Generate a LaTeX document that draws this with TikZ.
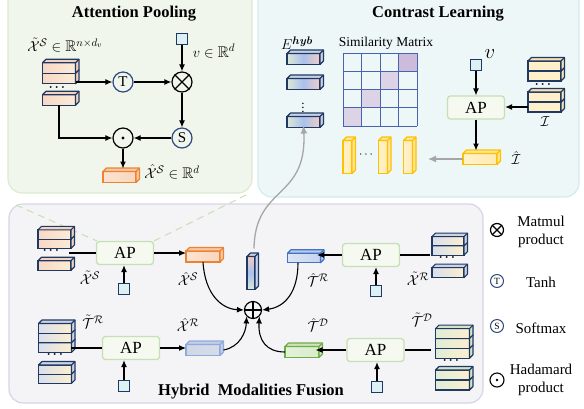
\documentclass[tikz,border=0pt]{standalone}
\usepackage{amsmath,amssymb}
\usepackage{fontspec}
\setmainfont{Liberation Serif}
\usetikzlibrary{arrows.meta,calc}
\definecolor{navy}{HTML}{203864}
\definecolor{apfill}{HTML}{F5F9F0}
\definecolor{apdraw}{HTML}{C5E0B4}
\definecolor{attfill}{HTML}{F0F6EC}
\definecolor{attdraw}{HTML}{DCEBD2}
\definecolor{confill}{HTML}{EEF7F8}
\definecolor{condraw}{HTML}{D2ECEF}
\definecolor{fusfill}{HTML}{F4F4F6}
\definecolor{fusdraw}{HTML}{D9D4E8}
\definecolor{sqfill}{HTML}{DDF0F4}
\definecolor{agray}{HTML}{A6A6A6}
\definecolor{gridblue}{HTML}{4A63B0}
\definecolor{simdark}{HTML}{CBBCDB}
\definecolor{simlight}{HTML}{DDD3E7}
\definecolor{opcblue}{HTML}{2F4A80}
\definecolor{pchL}{HTML}{F8D8C4}\definecolor{pchR}{HTML}{FCEBD6}\definecolor{pchF}{HTML}{F3D3BF}
\definecolor{gyL}{HTML}{D9DFEC}\definecolor{gyR}{HTML}{FCEFCF}\definecolor{gyF}{HTML}{CDD5E5}
\definecolor{gnL}{HTML}{DFEDD6}\definecolor{gnF}{HTML}{D3E5C8}
\definecolor{ysL}{HTML}{FFF0C9}\definecolor{ysF}{HTML}{F5E2B0}
\definecolor{orD}{HTML}{EE8230}\definecolor{orL}{HTML}{FCE3D2}\definecolor{orR}{HTML}{FAD5BC}\definecolor{orF}{HTML}{F6C9A8}
\definecolor{buD}{HTML}{4472C4}\definecolor{buL}{HTML}{DCE5F5}\definecolor{buR}{HTML}{C4D4F1}\definecolor{buF}{HTML}{B7C9EC}
\definecolor{xrD}{HTML}{8FAADC}\definecolor{xrL}{HTML}{CFD7E6}\definecolor{xrR}{HTML}{D6DDE8}\definecolor{xrF}{HTML}{C3CEE2}
\definecolor{grD}{HTML}{70AD47}\definecolor{grL}{HTML}{E4F1DB}\definecolor{grR}{HTML}{D8EBCB}\definecolor{grF}{HTML}{CDE5BC}
\definecolor{ylD}{HTML}{FFC000}\definecolor{ylL}{HTML}{FFF2CC}\definecolor{ylR}{HTML}{FFEAB0}\definecolor{ylF}{HTML}{FFE699}
\definecolor{hyL}{HTML}{DCE7D6}\definecolor{hyR}{HTML}{F2CDC4}\definecolor{hyM}{HTML}{AAC1EC}\definecolor{hyF}{HTML}{C8D3E8}

\newcommand\fsz[1]{\fontsize{#1}{#1}\selectfont}
\newcommand\bdots{{\boldmath$\cdots$}}
\newcommand\cub[6]{%
  \node[cubfront,#6,minimum width=#4pt,minimum height=#5pt] (#1) at (#2,#3) {};
  \draw[#6 faces] (#1.north west) -- ++(3.5,-3.5) -- ([shift={(3.5,-3.5)}]#1.north east) -- ([shift={(3.5,-3.5)}]#1.south east) -- (#1.south east) -- (#1.north east) -- cycle;
  \draw[#6 faces] (#1.north east) -- ++(3.5,-3.5);
}

\tikzset{
 arr/.style={-{Latex[length=7pt,width=6pt]},line width=1.1pt},
 ln/.style={line width=1.1pt},
 garr/.style={-{Latex[length=8pt,width=7pt]},line width=1.3pt,draw=agray},
 panelA/.style={rounded corners=14pt,fill=attfill,draw=attdraw,line width=1.2pt},
 panelC/.style={rounded corners=14pt,fill=confill,draw=condraw,line width=1.2pt},
 panelF/.style={rounded corners=14pt,fill=fusfill,draw=fusdraw,line width=1.2pt},
 dashl/.style={dashed,dash pattern=on 7pt off 5pt,draw=apdraw,line width=1pt},
 title/.style={font=\fsz{16.5}\bfseries,inner sep=0pt},
 lbl/.style={font=\fsz{15.5},inner sep=0pt},
 ap/.style={rectangle,rounded corners=3pt,fill=apfill,draw=apdraw,line width=1.3pt,minimum width=57pt,minimum height=23pt,inner sep=0pt,font=\fsz{17}},
 sq/.style={rectangle,fill=sqfill,draw=navy,line width=1.1pt,minimum size=11pt,inner sep=0pt},
 opc/.style={circle,draw=opcblue,line width=1.2pt,minimum size=20pt,inner sep=0pt,font=\fsz{15}},
 opk/.style={circle,draw=black,line width=1.2pt,minimum size=20pt,inner sep=0pt},
 dotsn/.style={inner sep=0pt,font=\fsz{13}},
 lgtxt/.style={inner sep=0pt,align=center,font=\fontsize{15}{18}\selectfont},
 cubfront/.style={rectangle,inner sep=0pt,outer sep=0pt,line width=1.1pt},
 peach/.style={left color=pchL,right color=pchR,draw=navy},
 peach faces/.style={fill=pchF,draw=navy,line width=1.1pt,line join=round},
 gy/.style={left color=gyL,right color=gyR,draw=navy},
 gy faces/.style={fill=gyF,draw=navy,line width=1.1pt,line join=round},
 gn/.style={left color=gnL,right color=gyR,draw=navy},
 gn faces/.style={fill=gnF,draw=navy,line width=1.1pt,line join=round},
 ys/.style={fill=ysL,draw=navy},
 ys faces/.style={fill=ysF,draw=navy,line width=1.1pt,line join=round},
 orng/.style={left color=orL,right color=orR,draw=orD},
 orng faces/.style={fill=orF,draw=orD,line width=1.1pt,line join=round},
 blu/.style={left color=buL,right color=buR,draw=buD},
 blu faces/.style={fill=buF,draw=buD,line width=1.1pt,line join=round},
 xr/.style={left color=xrL,right color=xrR,draw=xrD},
 xr faces/.style={fill=xrF,draw=xrD,line width=1.1pt,line join=round},
 grn/.style={left color=grL,right color=grR,draw=grD},
 grn faces/.style={fill=grF,draw=grD,line width=1.1pt,line join=round},
 ylw/.style={left color=ylL,right color=ylR,draw=ylD,line width=1.4pt},
 ylw faces/.style={fill=ylF,draw=ylD,line width=1.3pt,line join=round},
 hyb/.style={left color=hyL,right color=hyR,middle color=hyM,draw=navy},
 hyb faces/.style={fill=hyF,draw=navy,line width=1.1pt,line join=round},
 vbar/.style={top color=hyR,bottom color=hyL,middle color=hyM,draw=navy},
 vbar faces/.style={fill=hyF,draw=navy,line width=1.1pt,line join=round},
}

\begin{document}
\begin{tikzpicture}[x=1pt,y=-1pt]
\useasboundingbox (0,0) rectangle (584,408);

% ---------- panels ----------
\draw[panelA] (8,-14) rectangle (252,193);
\draw[panelC] (258,-14) rectangle (579,197);
\draw[panelF] (9,204) rectangle (483,403);

% ---------- Attention Pooling ----------
\node[title] (t1) at (134,14) {Attention Pooling};
\node[lbl] (lxs) at (65,45) {$\tilde{\mathcal X}^{\mathcal S}\in\mathbb R^{n\times d_v}$};
\cub{A3}{59}{100}{33}{10.5}{peach}
\cub{A1}{59}{78.5}{33}{10.5}{peach}
\cub{A2}{59}{68}{33}{10.5}{peach}
\node[dotsn] (ad) at (58,88) {\bdots};
\node[opc] (T) at (123,82) {T};
\node[opk] (M) at (182,82) {};
\draw[line width=1.2pt] (M.north east) -- (M.south west) (M.north west) -- (M.south east);
\node[sq] (vA) at (182,39) {};
\node[lbl] (lv) at (214,51) {$v\in\mathbb R^{d}$};
\node[opc] (S) at (182,138) {S};
\node[opk] (H) at (123,138) {};
\fill (H.center) circle (1.6pt);
\cub{OA}{119.5}{177}{33}{11}{orng}
\node[lbl] (lxh) at (172,172) {$\hat{\mathcal X}^{\mathcal S}\in\mathbb R^{d}$};
\draw[arr] (A1.east |- T.west) -- (T.west);
\draw[arr] (T.east) -- (M.west);
\draw[arr] (vA.south) -- (M.north);
\draw[arr] (M.south) -- (S.north);
\draw[arr] (S.west) -- (H.east);
\draw[arr] (A3.south) |- (H.west);
\draw[arr,shorten >=3pt] (H.south) -- (H.south |- OA.north);

% ---------- Contrast Learning ----------
\node[title] (t2) at (438,14) {Contrast Learning};
\node[lbl] (le) at (297,43) {$E^{\boldsymbol{hyb}}$};
\cub{E1}{303.5}{59}{33}{11}{hyb}
\cub{E2}{303.5}{84}{33}{11}{hyb}
\node[dotsn] (ev) at (303,105) {$\vdots$};
\cub{E3}{303.5}{122}{33}{11}{hyb}
\node[inner sep=0pt,font=\fsz{13.5}] (sml) at (386,43) {Similarity Matrix};
\fill[simdark] (398.5,53) rectangle (417,71.25);
\fill[simlight] (380,71.25) rectangle (398.5,89.5);
\fill[simlight] (361.5,89.5) rectangle (380,107.75);
\fill[simlight] (343,107.75) rectangle (361.5,126);
\foreach \i in {0,...,4}{
  \draw[gridblue,line width=1pt] (343+18.5*\i,53) -- (343+18.5*\i,126);
  \draw[gridblue,line width=1pt] (343,53+18.25*\i) -- (417,53+18.25*\i);
}
\cub{V1}{347.5}{157}{9}{33}{ylw}
\node[dotsn] (vd) at (367,155) {$\cdots$};
\cub{V2}{383}{157}{9}{33}{ylw}
\cub{V3}{408}{157}{9}{33}{ylw}
\node[sq] (vC) at (476,65) {};
\node[inner sep=0pt,font=\fsz{22}] (lvc) at (490,54) {$v$};
\node[ap] (APc) at (476,107.5) {AP};
\cub{I1}{544.5}{107}{33}{10}{ys}
\cub{I2}{544.5}{97}{33}{10}{ys}
\node[dotsn] (idt) at (544,85) {\bdots};
\cub{I3}{544.5}{76}{33}{10}{ys}
\cub{I4}{544.5}{66}{33}{10}{ys}
\node[lbl] (li) at (545,122) {$\mathcal I$};
\cub{Ih}{480}{159}{34}{11}{ylw}
\node[lbl] (lih) at (516,158) {$\hat{\mathcal I}$};
\draw[arr] (I1.west) -- (I1.west -| APc.east);
\draw[arr] (vC.south) -- (vC.south |- APc.north);
\draw[arr,shorten >=3pt] (APc.south) -- (APc.south |- Ih.north);
\coordinate (gv) at (428,159);
\draw[garr] (Ih.west) -- (gv);

% ---------- Hybrid Modalities Fusion ----------
\draw[dashl] (16,205) -- (97,241);
\node[ap] (AP1) at (125,253) {AP};
\draw[dashl] (AP1.north east) -- (250,193);

\cub{X1c}{54.5}{265.5}{33}{9.5}{peach}
\cub{X1a}{54.5}{243.7}{33}{9.2}{peach}
\cub{X1b}{54.5}{234.5}{33}{9.2}{peach}
\node[dotsn] (x1d) at (52,251) {\bdots};
\coordinate (s1) at (69,253);
\draw[ln] (s1) -- (AP1.west);
\node[lbl] (l1) at (90,278) {$\tilde{\mathcal X}^{\mathcal S}$};
\node[sq] (q1) at (124,289) {};
\draw[arr] (q1.north) -- (q1.north |- AP1.south);
\cub{O1}{203}{256.5}{34}{11}{orng}
\draw[arr] (AP1.east) -- (AP1.east -| O1.west);
\node[lbl] (l2) at (188,279) {$\hat{\mathcal X}^{\mathcal S}$};

\node[opk,minimum size=17pt] (P) at (253,310) {};
\draw[line width=1.2pt] (P.north) -- (P.south) (P.west) -- (P.east);
\cub{Bar}{251}{273}{8}{33}{vbar}
\coordinate (bt) at ([shift={(3,-8)}]Bar.north);
\draw[garr] (bt) .. controls (255,185) and (307,200) .. ([yshift=2]E3.south);

\node[ap] (AP2) at (371,255) {AP};
\cub{X2c}{448}{272.6}{32}{10}{gy}
\cub{X2a}{448}{250.5}{32}{9.3}{gy}
\cub{X2b}{448}{241.2}{32}{9.3}{gy}
\node[dotsn] (x2d) at (448,258) {\bdots};
\coordinate (s2) at (430,255);
\draw[ln] (s2) -- (AP2.east);
\node[lbl] (l3) at (418,279) {$\tilde{\mathcal X}^{\mathcal R}$};
\node[sq] (q2) at (376,291) {};
\draw[arr] (q2.north) -- (q2.north |- AP2.south);
\cub{B1}{304}{258}{33}{9.5}{blu}
\draw[arr,shorten >=-3.5pt] (AP2.west) -- (AP2.west -| B1.east);
\node[lbl] (l4) at (318,280) {$\hat{\mathcal T}^{\mathcal R}$};

\draw[arr] (O1.south) .. controls (205,295) and (222,309) .. (P.west);
\draw[arr] (B1.south -| 298,0) .. controls (298,292) and (285,307) .. (P.east);

% row 2
\node[ap] (AP3) at (131,348) {AP};
\cub{Y5}{55}{378.8}{33}{9.2}{gy}
\cub{Y4}{55}{369.6}{33}{9.2}{gy}
\node[dotsn] (y4d) at (56,355) {\bdots};
\cub{Y3}{55}{347.5}{33}{9.6}{gy}
\cub{Y2}{55}{337.9}{33}{9.6}{gy}
\cub{Y1}{55}{328.3}{33}{9.6}{gy}
\coordinate (s3) at (71,348);
\draw[ln] (s3) -- (AP3.west);
\node[lbl] (l5) at (93,322) {$\tilde{\mathcal T}^{\mathcal R}$};
\node[sq] (q3) at (124,386) {};
\draw[arr] (q3.north) -- (q3.north |- AP3.south);
\cub{R2}{203}{350}{34}{11}{xr}
\draw[arr] (AP3.east) -- (AP3.east -| R2.west);
\node[lbl] (l6) at (188,325) {$\hat{\mathcal X}^{\mathcal R}$};
\draw[arr] ([xshift=3.5]R2.east) .. controls (240,347) and (246,332) .. (P.south west);

\node[ap] (AP4) at (375.5,350) {AP};
\cub{Z5}{452.5}{385}{34}{10}{gn}
\cub{Z4}{452.5}{375}{34}{10}{gn}
\node[dotsn] (z4d) at (452,361) {\bdots};
\cub{Z3}{452.5}{353.3}{34}{9.9}{gn}
\cub{Z2}{452.5}{343.4}{34}{9.9}{gn}
\cub{Z1}{452.5}{333.5}{34}{9.9}{gn}
\coordinate (s4) at (431,350);
\draw[ln] (s4) -- (AP4.east);
\node[lbl] (l7) at (422,320) {$\tilde{\mathcal T}^{\mathcal D}$};
\node[sq] (q4) at (377,387) {};
\draw[arr] (q4.north) -- (q4.north |- AP4.south);
\cub{G1}{302}{352}{34}{11}{grn}
\draw[arr,shorten >=-3.5pt] (AP4.west) -- (AP4.west -| G1.east);
\node[lbl] (l8) at (318,325) {$\hat{\mathcal T}^{\mathcal D}$};
\draw[arr] (G1.west) .. controls (266,352) and (258,340) .. (P.south east);

\node[title] (t3) at (251,392) {Hybrid~~Modalities Fusion};

% ---------- legend ----------
\node[opk,minimum size=13pt] (LM) at (497,230) {};
\draw[line width=1.1pt] (LM.north east) -- (LM.south west) (LM.north west) -- (LM.south east);
\node[lgtxt] (tm) at (541,232) {Matmul\\product};
\node[opc,minimum size=13pt,font=\fsz{9.5},line width=1pt] (LT) at (497,281) {T};
\node[lgtxt] (tt) at (541,282) {Tanh};
\node[opc,minimum size=13pt,font=\fsz{9.5},line width=1pt] (LS) at (497,326) {S};
\node[lgtxt] (ts) at (541,328) {Softmax};
\node[opk,minimum size=14pt,line width=1.1pt] (LH) at (497,380) {};
\fill (LH.center) circle (1.3pt);
\node[lgtxt] (th) at (541,380) {Hadamard\\product};
\end{tikzpicture}
\end{document}
